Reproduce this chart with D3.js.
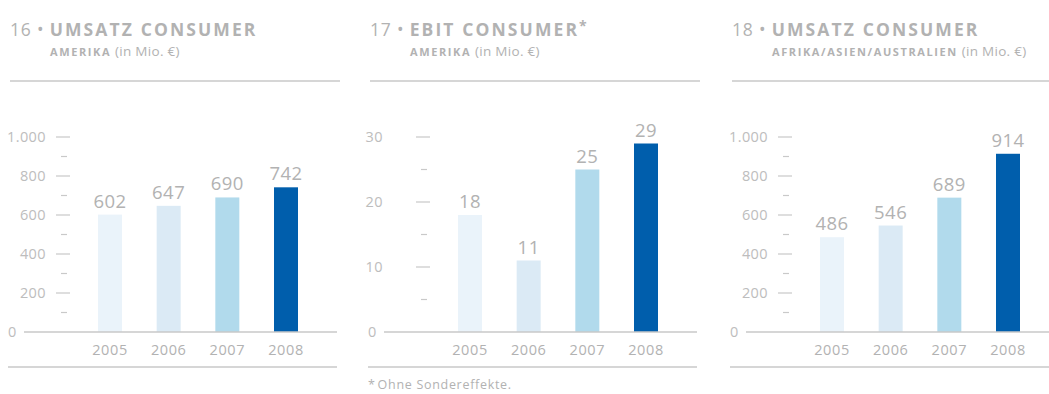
<!DOCTYPE html>
<html>
<head>
<meta charset="utf-8">
<script src="https://cdn.jsdelivr.net/npm/d3@7"></script>
<style>
  body { margin: 0; background: #fff; }
  svg { font-family: "Open Sans", "Noto Sans", sans-serif; }
</style>
</head>
<body>
<div id="chart"></div>
<script>
// DATA
const years = ["2005", "2006", "2007", "2008"];
const umsatzAmerika = [602, 647, 690, 742];
const ebitAmerika = [18, 11, 25, 29];
const umsatzAfrikaAsienAustralien = [486, 546, 689, 914];

const ticks1000 = [0, 200, 400, 600, 800, 1000];
const minor1000 = [100, 300, 500, 700, 900];
const ticks30 = [0, 10, 20, 30];
const minor30 = [5, 15, 25];

const barColors = ["#eaf3fa", "#dbeaf5", "#b1daec", "#005eac"];

const de = d3.formatLocale({ decimal: ",", thousands: ".", grouping: [3], currency: ["", " €"] });
const fmt = de.format(",");

const W = 1049, H = 394;
const svg = d3.select("#chart").append("svg")
    .attr("width", W)
    .attr("height", H);

const grey = "#b2b2b2";
const lineGrey = "#c9c9c9";

function drawPanel(ox, num, title, star, region, values, majors, minors, yMax, labelRight) {
    const g = svg.append("g").attr("transform", `translate(${ox},0)`);

    // TITLE
    const t = g.append("text")
        .attr("x", 2)
        .attr("y", 36)
        .style("font-size", "17.5px")
        .style("fill", grey);
    t.append("tspan").style("letter-spacing", "0.8px").text(num + " • ");
    t.append("tspan").style("font-weight", "bold").style("letter-spacing", "2.1px").text(title);
    if (star) {
        t.append("tspan").attr("dy", -5).style("font-size", "14px").style("font-weight", "bold").text("*");
    }

    const s = g.append("text")
        .attr("x", 42)
        .attr("y", 56)
        .style("fill", grey);
    s.append("tspan").style("font-size", "11px").style("font-weight", "bold").style("letter-spacing", "1.6px").text(region);
    s.append("tspan").style("font-size", "13.5px").style("letter-spacing", "0.3px").text(" (in Mio. €)");

    g.append("line")
        .attr("x1", 2).attr("x2", 332)
        .attr("y1", 81).attr("y2", 81)
        .style("stroke", lineGrey).style("stroke-width", 1.5);

    // SCALES
    const xs = d3.scalePoint().domain(years).range([102, 278]);
    const ys = d3.scaleLinear().domain([0, yMax]).range([332, 137]);
    const bw = 24;

    // major / minor ticks
    g.selectAll("line.major")
        .data(majors.filter(d => d > 0))
        .enter().append("line")
        .attr("x1", 48).attr("x2", 62)
        .attr("y1", d => ys(d)).attr("y2", d => ys(d))
        .style("stroke", lineGrey).style("stroke-width", 1.2);

    g.selectAll("line.minor")
        .data(minors)
        .enter().append("line")
        .attr("x1", 53).attr("x2", 59)
        .attr("y1", d => ys(d)).attr("y2", d => ys(d))
        .style("stroke", lineGrey).style("stroke-width", 1.2);

    g.selectAll("text.tick")
        .data(majors)
        .enter().append("text")
        .attr("x", d => d === 0 ? 0 : labelRight)
        .attr("y", d => ys(d) + 5)
        .attr("text-anchor", d => d === 0 ? "start" : "end")
        .style("font-size", "14.5px")
        .style("letter-spacing", "0.4px")
        .style("fill", "#bdbdbd")
        .text(d => fmt(d));

    // BARS
    g.selectAll("rect.bar")
        .data(values)
        .enter().append("rect")
        .attr("x", (d, i) => xs(years[i]) - bw / 2)
        .attr("y", d => ys(d))
        .attr("width", bw)
        .attr("height", d => ys(0) - ys(d))
        .style("fill", (d, i) => barColors[i]);

    g.selectAll("text.val")
        .data(values)
        .enter().append("text")
        .attr("x", (d, i) => xs(years[i]))
        .attr("y", d => ys(d) - 7)
        .attr("text-anchor", "middle")
        .style("font-size", "18.5px")
        .style("letter-spacing", "0.5px")
        .style("fill", grey)
        .text(d => fmt(d));

    // baseline
    g.append("line")
        .attr("x1", 16).attr("x2", 329)
        .attr("y1", ys(0)).attr("y2", ys(0))
        .style("stroke", lineGrey).style("stroke-width", 1.5);

    // year labels
    g.selectAll("text.year")
        .data(years)
        .enter().append("text")
        .attr("x", d => xs(d))
        .attr("y", 355)
        .attr("text-anchor", "middle")
        .style("font-size", "14.5px")
        .style("letter-spacing", "0.6px")
        .style("fill", grey)
        .text(d => d);

    // bottom rule
    g.append("line")
        .attr("x1", 0).attr("x2", 329)
        .attr("y1", 367).attr("y2", 367)
        .style("stroke", lineGrey).style("stroke-width", 1.5);

    return g;
}

drawPanel(8, "16", "UMSATZ CONSUMER", false, "AMERIKA", umsatzAmerika, ticks1000, minor1000, 1000, 38);
const p2 = drawPanel(368, "17", "EBIT CONSUMER", true, "AMERIKA", ebitAmerika, ticks30, minor30, 30, 15);
drawPanel(730, "18", "UMSATZ CONSUMER", false, "AFRIKA/ASIEN/AUSTRALIEN", umsatzAfrikaAsienAustralien, ticks1000, minor1000, 1000, 38);

// footnote
const fn = p2.append("text")
    .attr("x", 0)
    .attr("y", 389)
    .style("font-size", "12.5px")
    .style("letter-spacing", "0.7px")
    .style("fill", grey);
fn.append("tspan").text("*");
fn.append("tspan").attr("dx", 2).text("Ohne Sondereffekte.");
</script>
</body>
</html>
